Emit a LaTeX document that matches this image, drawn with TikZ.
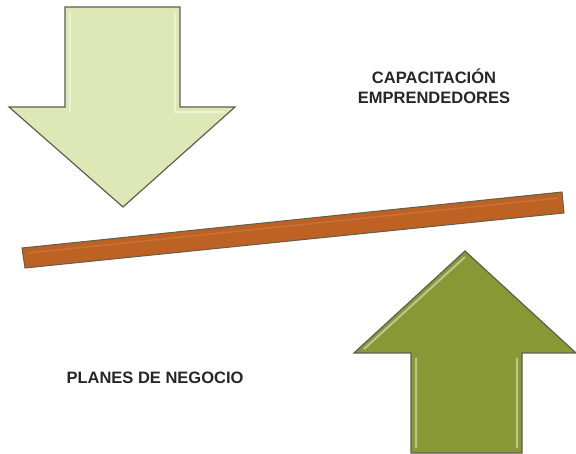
\documentclass[tikz,border=0pt]{standalone}
\usepackage{fontspec}
\setmainfont{Liberation Sans}
\usetikzlibrary{positioning}
\definecolor{lightleaf}{RGB}{221,232,182}
\definecolor{oliveleaf}{RGB}{136,152,52}
\definecolor{barbrown}{RGB}{190,98,36}
\definecolor{edgegray}{RGB}{95,95,80}

\begin{document}
\begin{tikzpicture}[
    x=1pt, y=-1pt,
    downarrow/.style={draw=edgegray, line width=1.2pt, fill=lightleaf, line join=miter},
    uparrow/.style={draw=edgegray, line width=1.2pt, fill=oliveleaf, line join=miter},
    bevel/.style={draw=white, opacity=0.45, line width=2pt},
    beam/.style={draw=edgegray, line width=1pt, fill=barbrown},
    label/.style={font=\fontsize{16.5}{20}\selectfont\bfseries, align=center, text=black!85}
]
    \useasboundingbox (0,0) rectangle (576,454);

    % Down arrow (top left)
    \draw[downarrow] (65,7) -- (180,7) -- (180,107) -- (235,107) -- (123,207) -- (9,107) -- (65,107) -- cycle;
    \draw[bevel] (70,12) -- (70,112) (175,12) -- (175,112) -- (225,112);

    % Beam
    \draw[beam] (22,248) -- (562,192) -- (564,213) -- (25,268) -- cycle;
    \draw[draw=white, opacity=0.1, line width=1.5pt] (28,253) -- (558,198);

    % Up arrow (bottom right)
    \draw[uparrow] (465,251) -- (576,353) -- (522,353) -- (522,453) -- (411,453) -- (411,353) -- (354,353) -- cycle;
    \draw[bevel] (416,358) -- (416,448) (517,358) -- (517,448) (465,257) -- (364,349);

    % Labels
    \node[label] (capacitacion) at (434,86) {CAPACITACIÓN\\EMPRENDEDORES};
    \node[label] (planes) at (155,378) {PLANES DE NEGOCIO};
\end{tikzpicture}
\end{document}
